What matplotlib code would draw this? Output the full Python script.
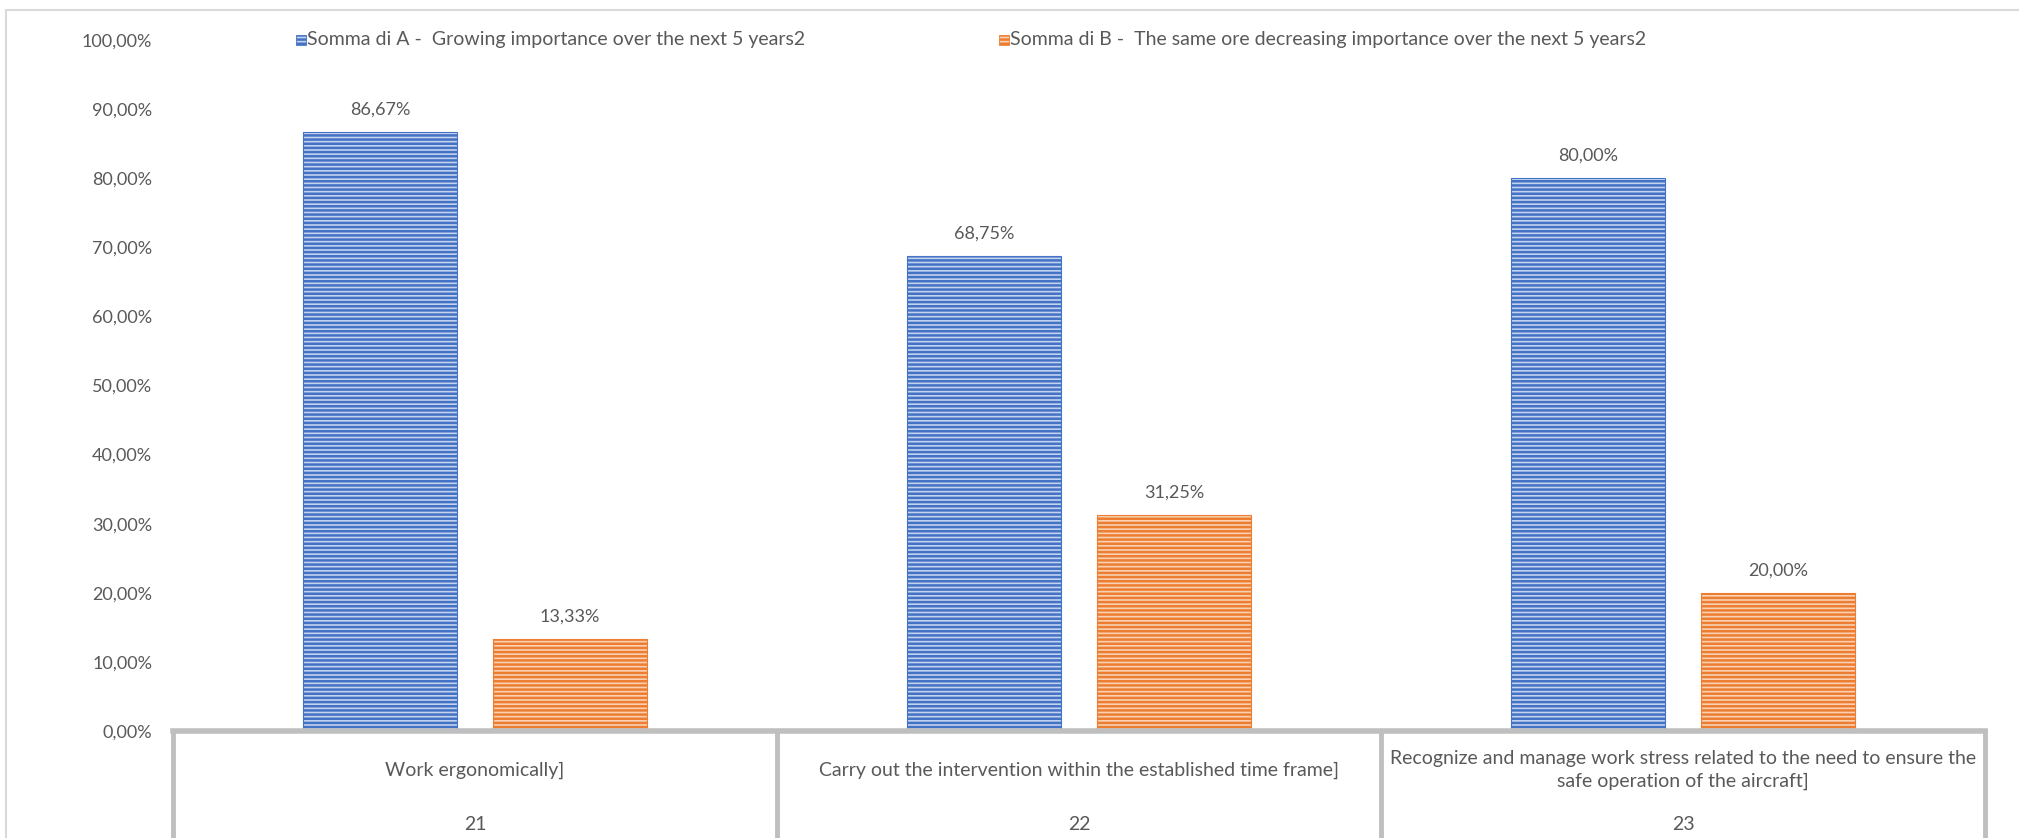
import matplotlib.pyplot as plt
from matplotlib.patches import Rectangle
import numpy as np

plt.rcParams['font.family'] = ['Lato', 'DejaVu Sans']
plt.rcParams['hatch.linewidth'] = 1.8

questions = ['21', '22', '23']
descriptions = [
    'Work ergonomically]',
    'Carry out the intervention within the established time frame]',
    'Recognize and manage work stress related to the need to ensure the\nsafe operation of the aircraft]',
]
growing = [86.67, 68.75, 80.00]
same_or_less = [13.33, 31.25, 20.00]
series_names = [
    'Somma di A -  Growing importance over the next 5 years2',
    'Somma di B -  The same ore decreasing importance over the next 5 years2',
]

blue, blue_light = '#4472C4', '#C3D2EE'
orange, orange_light = '#ED7D31', '#F9D2B6'
grey_text = '#595959'
grid_grey = '#BFBFBF'

W, H = 2019, 838
fig = plt.figure(figsize=(W / 100, H / 100), dpi=100)
# plot area in pixels: 173..1985 wide, 40..731 tall (from top)
top, base = 40, 731
ax = fig.add_axes([173 / W, (H - base) / H, (1985 - 173) / W, (base - top) / H])
span = base - top

x = np.arange(len(questions))
bw = 0.256
off = 0.157
for vals, dx, face, edge in [(growing, -off, blue_light, blue),
                             (same_or_less, off, orange_light, orange)]:
    bars = ax.bar(x + dx, vals, bw, color=face, edgecolor=edge,
                  hatch='----', linewidth=0.8)
    for b, v in zip(bars, vals):
        ax.annotate(f'{v:.2f}%'.replace('.', ','),
                    (b.get_x() + b.get_width() / 2, v),
                    xytext=(0, 16), textcoords='offset points',
                    ha='center', va='center', fontsize=13, color=grey_text)

ax.set_xlim(-0.5, 2.5)
ax.set_ylim(0, 100)
ticks = np.arange(0, 101, 10)
ax.set_yticks(ticks)
ax.set_yticklabels([f'{t:.2f}%'.replace('.', ',') for t in ticks])
ax.tick_params(axis='y', length=0, pad=15, labelsize=13, labelcolor=grey_text)
ax.set_xticks([])
for s in ax.spines.values():
    s.set_visible(False)

# category table under the plot
tr = ax.get_xaxis_transform()
ax.plot([-0.5, 2.5], [0, 0], transform=tr, color=grid_grey, lw=4,
        clip_on=False, solid_capstyle='projecting')
for xv in [-0.5, 0.5, 1.5, 2.5]:
    ax.plot([xv, xv], [0, -0.2], transform=tr, color=grid_grey, lw=3.5,
            clip_on=False)
for i, (q, d) in enumerate(zip(questions, descriptions)):
    ax.text(i, -39 / span, d, transform=tr, ha='center', va='center',
            fontsize=14, color=grey_text, linespacing=1.4)
    ax.text(i, -93 / span, q, transform=tr, ha='center', va='center',
            fontsize=14, color=grey_text)

# legend along the top
legend_y = 1 - top / H
for lx, face, edge, name in [(296, blue_light, blue, series_names[0]),
                             (999, orange_light, orange, series_names[1])]:
    fig.patches.append(Rectangle((lx / W, legend_y - 5 / H), 10 / W, 10 / H,
                                 transform=fig.transFigure, facecolor=face,
                                 edgecolor=edge, hatch='----', lw=0.6))
    fig.text((lx + 11) / W, legend_y, name, ha='left', va='center',
             fontsize=14, color=grey_text)

# outer chart border
fig.patches.append(Rectangle((6 / W, -0.1), 1.2, 1 - 10 / H + 0.1,
                             transform=fig.transFigure, fill=False,
                             edgecolor='#D9D9D9', lw=1.5))

fig.savefig('out.png', dpi=100)
